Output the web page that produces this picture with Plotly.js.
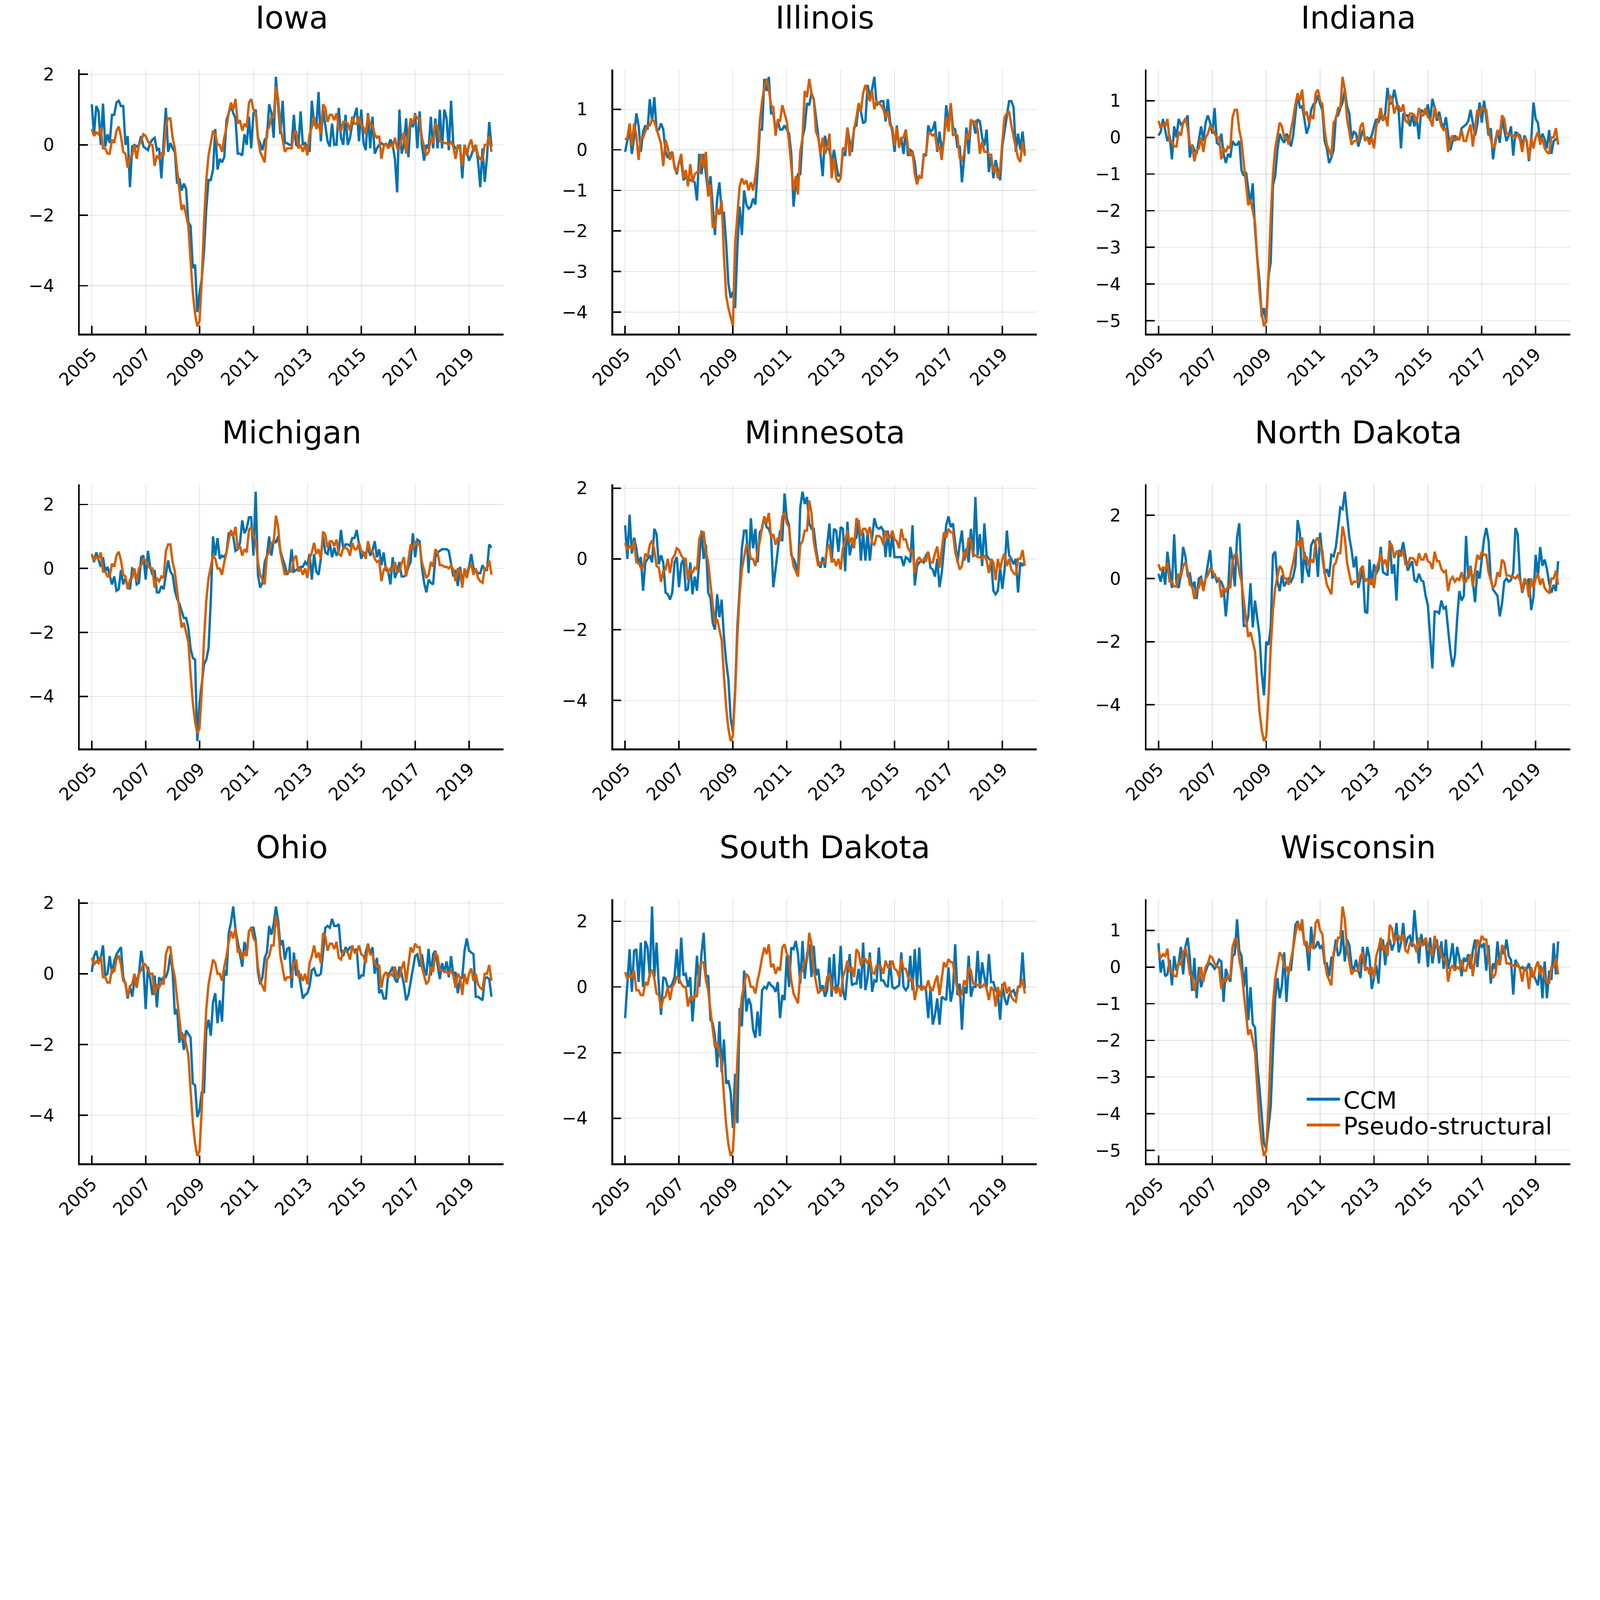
<!DOCTYPE html>
<html><head><meta charset="utf-8">
<script src="https://cdn.plot.ly/plotly-3.0.1.min.js"></script>
<style>html,body{margin:0;padding:0;background:#fff;overflow:hidden}</style>
</head><body><div id="chart"></div>
<script>
// ---------- DATA (monthly, Jan 2005 onward) ----------
const states = ["Iowa","Illinois","Indiana","Michigan","Minnesota","North Dakota","Ohio","South Dakota","Wisconsin"];
const startYear = 2005;
const xTickVals = [2005,2007,2009,2011,2013,2015,2017,2019];
const xTickText = ["2005","2007","2009","2011","2013","2015","2017","2019"];
const yTickVals = [
  [-4,-2,0,2],
  [-4,-3,-2,-1,0,1],
  [-5,-4,-3,-2,-1,0,1],
  [-4,-2,0,2],
  [-4,-2,0,2],
  [-4,-2,0,2],
  [-4,-2,0,2],
  [-4,-2,0,2],
  [-5,-4,-3,-2,-1,0,1]
];
const seriesNames = ["CCM","Pseudo-structural"];

const ccmIowa = [
1.15,0.3,1.1,0.95,0.0,1.17,-0.05,0.3,0.05,0.85,0.85,1.2,
1.25,1.1,1.1,0.0,0.25,-1.2,-0.05,0.0,-0.05,0.0,0.25,-0.05,
-0.1,-0.15,0.05,0.15,0.2,-0.15,-0.1,-0.95,0.1,1.05,-0.2,0.05,
-0.1,-0.2,-1.1,-0.95,-1.3,-1.1,-1.25,-2.2,-2.3,-3.5,-3.4,-4.75,
-4.2,-3.8,-3.0,-1.8,-1.0,-1.0,-0.7,0.45,-0.7,-0.4,-0.5,-0.35,
0.7,0.9,1.1,0.9,0.75,-0.25,-0.25,-0.3,0.3,0.0,0.8,-0.1,
0.9,1.0,0.2,0.05,-0.15,0.15,0.2,1.15,0.9,0.2,1.93,1.1,
0.3,1.25,0.05,0.05,0.0,0.0,0.85,0.0,-0.05,0.95,0.0,0.05,
-0.05,-0.2,1.25,0.6,0.5,1.5,0.1,1.0,0.5,0.1,-0.05,0.6,
0.0,0.0,1.05,0.2,0.0,0.85,0.0,0.2,0.6,0.8,1.05,0.1,
1.0,0.05,-0.15,0.9,-0.1,0.8,-0.25,-0.1,0.0,0.05,0.0,0.0,
-0.05,0.15,0.0,-0.4,-1.35,1.0,-0.25,0.0,0.75,-0.35,0.75,0.5,
0.9,-0.1,0.95,0.0,-0.45,0.0,-0.1,0.8,-0.1,0.75,-0.1,1.0,
-0.1,1.0,0.75,-0.15,1.25,0.0,-0.1,-0.1,0.0,-0.95,0.0,-0.2,
-0.45,-0.3,-0.1,0.0,-0.45,-1.2,-0.1,-1.05,-0.35,0.65,-0.05];

const ccmIllinois = [
-0.05,0.25,0.5,-0.1,0.3,0.9,0.6,-0.05,0.45,0.6,0.5,1.25,
0.7,1.3,0.5,0.5,0.65,0.5,-0.05,-0.2,-0.1,-0.05,-0.4,-0.6,
-0.3,-0.3,-0.75,-0.65,-0.7,-0.75,-0.75,-0.8,-1.25,-0.1,-0.6,-0.1,
-0.6,-1.1,-0.65,-1.3,-2.1,-1.2,-0.8,-1.55,-1.55,-2.3,-3.3,-3.65,
-3.5,-3.9,-2.4,-1.4,-2.1,-1.0,-1.35,-1.45,-1.4,-1.2,-1.35,-0.5,
0.5,0.5,1.75,1.45,1.8,0.9,0.9,0.5,0.7,0.5,0.5,0.6,
0.5,0.4,-0.1,-1.4,-0.8,-0.6,-0.6,0.3,0.55,1.15,1.1,1.4,
1.25,0.8,0.4,-0.1,-0.65,0.35,0.05,0.0,-0.35,0.0,-0.35,-0.65,
-0.6,-0.05,-0.15,0.55,0.2,-0.05,0.55,0.6,1.1,0.95,0.65,0.7,
1.6,1.3,1.5,1.8,1.1,1.15,1.2,1.2,0.7,1.25,0.7,0.45,
-0.05,0.6,0.1,0.3,-0.1,0.5,-0.15,0.0,-0.05,-0.3,-0.8,-0.65,
-0.7,-0.1,-0.15,0.6,0.45,0.5,0.7,-0.05,0.45,0.0,0.25,1.1,
0.6,1.15,0.55,0.5,0.05,0.1,-0.8,-0.2,0.55,-0.1,0.7,0.7,
0.4,0.75,0.7,0.3,0.1,0.5,-0.55,-0.1,-0.7,-0.25,-0.5,-0.75,
0.1,0.5,0.85,1.2,1.2,1.05,-0.05,0.4,0.0,0.45,-0.1];

const ccmIndiana = [
0.05,0.15,0.5,0.2,-0.1,0.05,-0.6,0.3,0.0,0.5,0.35,0.4,
0.45,0.6,-0.55,-0.2,-0.35,-0.45,-0.1,0.3,-0.1,0.4,0.6,0.4,
0.1,0.8,-0.15,-0.2,0.1,-0.45,-0.7,-0.45,-0.55,-0.1,-0.2,-0.2,
-0.1,-0.9,-1.05,-0.95,-1.4,-1.8,-1.25,-2.5,-3.3,-3.9,-4.9,-4.65,
-5.05,-3.8,-3.4,-1.3,-1.05,-0.35,0.1,-0.05,-0.15,0.1,0.0,-0.25,
0.05,0.6,1.2,0.8,0.85,0.5,0.1,0.3,0.75,0.9,0.95,1.15,
0.9,0.75,-0.1,-0.3,-0.7,-0.55,-0.35,0.55,0.6,0.8,0.95,1.3,
0.85,0.65,-0.05,0.15,0.1,-0.25,0.0,0.2,-0.05,0.0,-0.05,0.05,
0.3,0.5,0.4,0.6,0.45,0.65,1.35,0.9,0.95,1.3,1.0,0.7,
-0.3,0.65,0.6,0.6,0.3,0.6,0.3,0.55,-0.05,0.75,0.7,0.65,
0.9,0.45,1.05,0.8,0.45,0.7,0.4,0.25,0.55,0.05,-0.35,-0.1,
0.05,-0.05,-0.05,0.25,0.3,0.35,0.45,0.75,0.4,0.05,0.35,0.95,
0.4,1.0,0.55,0.05,0.25,-0.6,-0.1,0.2,-0.15,0.5,0.2,-0.1,
0.05,0.3,-0.5,0.15,0.1,0.05,-0.25,0.05,-0.1,-0.65,-0.1,0.95,
0.5,0.4,-0.15,0.1,-0.05,-0.3,0.2,-0.45,-0.1,-0.05,-0.05];

const ccmMichigan = [
0.45,0.2,0.5,0.3,0.05,0.35,-0.1,0.05,-0.2,-0.5,-0.25,-0.7,
-0.65,-0.05,-0.5,-0.3,-0.55,-0.65,0.0,-0.05,-0.5,-0.45,0.35,0.4,
-0.35,0.55,0.05,-0.2,-0.05,-0.75,-0.75,-0.55,-0.65,-0.2,0.25,-0.1,
-0.2,-0.7,-0.95,-1.1,-1.3,-1.55,-1.55,-1.85,-2.5,-2.8,-2.85,-5.4,
-4.2,-3.6,-3.0,-2.85,-2.5,-1.0,1.0,0.4,0.95,0.3,0.4,0.35,
0.5,1.1,1.1,1.0,0.55,0.6,0.8,1.5,1.1,1.25,1.6,1.6,
0.4,2.4,-0.2,-0.6,-0.45,0.2,0.4,1.0,0.4,0.9,0.8,1.0,
0.55,0.3,0.1,-0.2,-0.05,0.6,-0.1,-0.05,0.0,0.05,0.05,0.2,
0.1,0.45,-0.35,0.45,-0.1,-0.2,0.3,1.0,0.5,0.45,0.8,0.35,
0.65,0.4,0.55,1.2,0.6,0.75,0.75,0.7,0.95,0.95,1.2,0.8,
0.3,0.5,0.45,0.65,0.4,0.55,0.85,0.35,0.6,0.1,0.5,-0.05,
-0.1,-0.5,0.35,-0.3,-0.1,0.2,-0.25,-0.25,-0.2,0.05,0.2,1.1,
0.35,0.9,0.85,0.05,-0.45,-0.75,-0.35,-0.45,-0.5,0.35,0.5,0.55,
0.6,0.6,0.6,0.55,0.15,-0.25,-0.05,-0.55,0.05,-0.45,-0.1,-0.15,
0.05,0.45,0.0,-0.05,-0.15,-0.15,0.1,-0.05,-0.05,0.75,0.65];

const ccmMinnesota = [
0.95,0.0,1.25,0.15,0.6,0.3,-0.15,0.05,-0.9,-0.1,0.0,0.1,
-0.1,0.85,0.7,-0.15,0.1,-0.1,-0.95,-1.0,-1.15,-0.95,-0.1,0.05,
-0.8,-0.15,0.0,-0.9,-0.85,-0.1,-1.0,-0.5,-0.9,0.0,0.8,0.0,
0.4,-0.95,-1.1,-1.8,-2.0,-1.0,-1.65,-1.15,-2.2,-2.9,-3.4,-4.5,
-4.9,-3.7,-1.9,-0.85,0.3,0.8,0.8,-0.4,1.15,0.3,0.85,-0.1,
0.75,0.85,1.2,0.9,0.85,0.65,-0.8,-0.3,0.2,0.8,0.5,1.85,
1.15,0.95,0.1,0.0,-0.15,-0.5,1.45,1.9,1.55,1.75,1.0,0.85,
0.85,0.3,-0.1,-0.25,0.05,-0.25,0.4,1.0,-0.05,0.85,0.8,0.2,
0.9,0.85,-0.35,1.05,0.1,0.4,0.55,0.6,1.1,-0.05,0.75,-0.05,
0.75,-0.05,0.6,1.15,0.9,0.85,0.9,0.8,0.05,0.8,0.05,0.7,
0.05,0.05,0.05,0.05,-0.2,0.05,0.0,-0.1,0.95,-0.75,-0.2,-0.1,
-0.05,-0.1,0.1,0.2,-0.25,-0.3,-0.5,0.0,-0.8,-0.4,0.3,0.95,
1.2,0.9,1.0,0.4,-0.1,0.4,0.8,-0.05,0.3,-0.1,0.85,0.05,
1.75,0.1,0.7,-0.2,1.0,0.1,0.0,-0.05,-0.9,-1.0,-0.9,-0.25,
-0.85,-0.3,0.8,0.1,0.0,-0.15,0.0,-0.95,-0.1,-0.2,-0.05];

const ccmNorthDakota = [
0.15,-0.1,0.3,-0.2,0.85,0.25,-0.3,1.4,-0.15,-0.3,0.15,1.0,
0.7,0.1,0.15,-0.3,-0.1,-0.65,0.0,0.05,-0.3,0.0,0.5,0.9,
0.0,0.15,-0.1,-0.05,-0.1,-0.3,-1.2,-0.4,1.0,0.6,-0.25,1.3,
1.75,0.2,-1.5,-1.5,-1.2,-0.15,-1.55,-0.7,-1.2,-1.8,-3.0,-3.7,
-2.0,-2.1,-1.55,0.75,0.85,-0.1,-0.4,0.1,-0.25,-0.1,0.0,-0.1,
0.05,0.4,1.85,1.45,-0.15,0.85,0.3,0.05,1.05,1.2,1.1,0.05,
1.45,0.7,0.15,0.3,0.05,0.75,0.7,1.0,1.6,2.25,2.2,2.75,
2.0,1.3,0.9,0.35,0.7,-0.3,0.0,0.35,-1.05,-1.1,0.6,-0.2,
0.45,0.15,0.3,1.0,0.2,0.15,0.1,1.2,0.15,0.45,-0.7,0.9,
0.8,1.15,0.7,0.25,0.4,0.55,-0.05,-0.1,0.15,-0.05,-0.1,-0.55,
-0.85,-1.8,-2.85,-1.05,-1.05,-1.1,-0.7,-0.95,-0.9,-1.6,-2.3,-2.8,
-2.45,-1.3,-0.4,-0.7,-0.55,1.35,0.0,0.4,-0.1,-0.75,0.25,0.0,
0.6,1.25,1.6,1.2,0.0,-0.35,-0.45,-0.55,-1.2,-0.8,-0.1,0.0,
-0.1,-0.05,0.2,1.6,1.4,0.05,-0.45,-0.15,-0.15,0.0,-1.0,-0.6,
0.75,0.05,1.0,0.4,0.6,0.3,-0.15,-0.45,-0.2,-0.4,0.55];

const ccmOhio = [
0.05,0.5,0.65,0.35,0.45,0.8,-0.05,0.0,0.5,0.0,0.35,0.55,
0.65,0.75,-0.1,-0.3,-0.7,-0.35,-0.65,-0.2,-0.2,0.0,0.65,0.2,
-1.0,0.2,-0.15,-0.6,-0.05,-0.95,-0.1,-0.2,-0.1,-0.1,0.1,0.55,
0.05,-1.15,-1.0,-1.95,-1.65,-2.15,-1.6,-1.7,-1.8,-3.1,-3.15,-4.05,
-3.85,-3.35,-3.35,-1.6,-1.3,-1.75,-0.8,-0.55,-1.4,-0.75,-1.35,0.1,
-0.05,1.15,1.45,1.9,1.25,0.9,0.55,0.2,0.9,0.6,1.2,1.3,
1.3,0.95,0.05,-0.3,-0.1,0.45,0.6,1.35,1.1,1.4,1.9,1.5,
0.8,0.95,0.4,0.7,0.75,-0.4,0.6,-0.05,0.1,-0.35,-0.7,-0.6,
-0.55,-0.35,0.1,0.15,-0.05,-0.05,0.0,0.6,1.3,1.35,1.3,1.55,
1.35,1.35,1.4,0.65,0.5,0.75,0.65,0.75,0.75,0.65,0.7,-0.15,
-0.05,-0.05,0.6,0.85,0.55,0.75,0.0,0.45,-0.55,-0.45,-0.7,-0.7,
0.0,0.05,0.2,-0.15,-0.25,0.2,0.0,-0.3,-0.75,-0.6,-0.25,0.15,
0.5,0.55,0.2,0.55,0.15,-0.05,0.7,-0.05,0.55,0.65,0.25,-0.15,
0.3,0.05,0.35,-0.1,0.5,-0.05,0.05,-0.55,-0.15,-0.1,0.65,1.0,
0.65,0.6,0.55,-0.65,-0.65,-0.7,-0.75,-0.15,-0.1,-0.15,-0.65];

const ccmSouthDakota = [
-0.95,0.15,1.15,-0.15,1.1,1.15,0.15,1.35,0.0,1.4,1.2,0.3,
2.45,0.3,1.35,0.05,-0.85,0.3,0.25,0.0,0.0,0.1,0.3,1.15,
0.1,1.5,0.35,0.4,0.0,0.3,-1.05,-0.15,0.95,0.0,1.0,1.65,
0.3,0.35,-1.0,-1.1,-1.5,-2.45,-1.05,-2.6,-1.6,-2.95,-2.85,-3.2,
-4.3,-2.65,-4.15,-0.65,-1.2,0.5,-0.75,-0.35,-0.55,-1.3,-1.55,-0.75,
-1.5,-0.1,0.0,-0.05,0.15,0.05,0.0,-0.15,0.15,-0.95,-0.25,-0.4,
0.95,0.0,1.2,1.15,1.4,1.0,0.1,1.4,0.25,1.0,1.3,0.3,
1.25,0.35,0.55,-0.1,0.05,-0.3,-0.1,0.9,-0.3,1.0,-0.2,0.1,
1.25,-0.1,-0.4,0.4,1.0,0.05,0.1,0.1,0.55,-0.05,1.35,-0.1,
0.3,1.05,-0.15,0.2,0.15,1.2,0.2,0.2,0.05,0.0,0.8,0.0,
-0.05,0.0,0.05,1.05,0.0,-0.1,0.0,0.95,-0.1,1.15,0.0,1.2,
-0.1,0.0,-0.1,-0.95,0.0,-1.15,-0.85,-0.35,-1.15,-0.3,-0.35,-0.4,
0.6,-0.45,-0.1,1.3,-0.25,0.1,-1.3,0.0,-0.2,0.95,-0.3,0.0,
0.0,1.1,-0.05,0.75,0.3,0.0,1.0,0.15,0.15,-0.1,-0.2,-1.0,
0.1,-0.35,-0.55,-0.25,-0.15,-0.1,-0.3,0.0,0.05,1.05,-0.05];

const ccmWisconsin = [
0.65,-0.15,0.2,-0.25,-0.2,0.2,-0.5,0.3,-0.1,0.1,0.55,-0.2,
0.55,0.8,0.25,-0.65,0.25,-0.85,0.0,-0.55,-0.3,-0.1,0.05,0.1,
0.05,-0.05,0.05,0.2,0.15,-0.95,-0.05,-0.25,-0.4,0.3,0.35,1.3,
0.45,0.3,-0.55,0.0,-1.45,-0.55,-1.55,-1.65,-2.65,-3.3,-4.0,-4.8,
-4.95,-4.3,-3.8,-2.3,-0.85,-0.3,-0.85,-0.5,0.4,-0.95,0.0,-0.1,
0.5,1.15,1.25,1.0,1.1,0.65,0.55,-0.1,1.1,0.5,0.55,0.7,
0.5,0.6,0.1,0.1,-0.25,0.25,0.3,0.75,0.3,0.4,1.0,0.15,
0.75,0.6,0.05,-0.1,0.2,-0.1,-0.3,0.55,0.0,0.55,0.25,-0.6,
-0.3,0.05,-0.45,0.55,0.75,0.05,0.65,0.75,0.45,0.65,1.2,0.4,
0.65,1.2,0.55,0.8,0.85,0.55,1.55,0.8,0.1,0.9,0.6,0.75,
0.0,0.8,0.1,0.5,0.75,0.1,0.7,-0.05,0.75,-0.05,0.25,0.65,
-0.05,0.55,0.25,-0.25,0.25,0.15,0.35,-0.05,0.45,0.75,0.0,0.65,
0.55,0.65,-0.1,0.6,-0.45,0.1,-0.05,0.7,0.05,0.5,0.35,0.75,
0.3,0.2,-0.75,0.2,0.05,-0.05,0.0,-0.1,-0.05,0.1,-0.25,-0.2,
-0.35,-0.5,0.05,-0.85,0.15,-0.85,-0.1,-0.35,0.65,-0.2,0.7];

// pseudo-structural series (shared shape across most states)
const pseudoCommon = [
0.45,0.25,0.35,0.3,0.5,-0.1,-0.1,-0.25,-0.25,0.15,0.05,0.4,
0.52,0.25,-0.2,-0.25,-0.65,-0.35,-0.3,0.0,-0.4,0.0,0.1,0.3,
0.25,0.1,0.0,0.0,-0.6,-0.3,-0.4,-0.25,-0.3,0.55,0.75,0.75,
0.2,-0.1,-0.7,-1.3,-1.85,-1.7,-2.0,-2.3,-3.3,-4.2,-4.8,-5.15,
-5.0,-3.8,-2.2,-1.0,-0.3,0.1,0.4,0.3,0.0,0.0,-0.2,0.2,
0.5,0.9,1.2,1.0,1.3,0.6,0.7,0.4,0.6,0.5,1.2,1.3,
1.0,0.9,0.2,-0.2,-0.35,-0.5,0.4,0.5,0.8,0.8,1.65,1.3,
0.5,0.1,-0.2,-0.1,-0.1,-0.1,0.3,0.4,-0.1,0.0,-0.2,0.0,
-0.3,0.3,0.5,0.8,0.45,0.6,0.3,1.15,1.05,0.65,0.85,0.85,
0.7,0.9,0.45,0.4,0.65,0.65,0.6,0.4,0.8,0.6,0.6,0.8,
0.55,0.5,0.3,0.85,0.55,0.55,0.3,0.2,0.25,-0.4,-0.05,0.05,
-0.1,0.0,-0.05,0.2,-0.1,-0.1,0.15,0.35,-0.25,0.25,0.75,0.6,
0.85,0.75,0.75,0.2,-0.05,-0.3,-0.2,0.2,0.05,0.6,0.5,0.1,
0.1,0.05,0.05,0.0,0.1,-0.05,-0.4,0.0,-0.1,-0.6,0.0,-0.3,
0.0,0.15,-0.2,0.0,-0.3,-0.4,-0.45,0.0,0.0,0.25,-0.2];

const pseudoIllinois = [
0.25,0.3,0.65,0.1,0.65,0.35,-0.25,0.3,0.3,0.45,0.6,0.6,
0.75,0.7,0.5,0.3,0.15,-0.4,0.25,0.05,-0.25,-0.05,-0.45,-0.55,
-0.3,-0.1,-0.7,-0.5,-0.9,-0.35,-0.8,-0.6,-0.55,-0.55,-0.1,-0.45,
-0.05,-1.15,-0.85,-1.9,-1.9,-1.45,-1.6,-1.25,-2.6,-3.6,-3.9,-4.1,
-4.35,-2.3,-1.5,-0.9,-0.7,-0.85,-0.75,-1.0,-0.8,-1.0,-0.65,-0.2,
0.7,1.2,1.55,1.75,1.5,1.1,1.05,0.35,0.75,0.7,1.1,0.9,
0.7,0.2,-0.4,-1.0,-0.65,-1.1,-0.05,0.3,1.45,1.3,1.75,1.4,
1.25,0.45,0.3,-0.1,0.3,-0.1,0.05,0.4,-0.7,-0.2,-0.7,-0.8,
-0.7,0.05,0.0,0.55,-0.15,0.2,0.5,0.8,1.15,0.95,1.4,1.6,
1.4,1.2,1.45,1.0,1.2,1.15,1.1,1.0,0.8,0.95,0.6,0.55,
0.1,0.55,0.05,0.3,0.3,0.5,0.05,-0.15,-0.05,-0.6,-0.85,-0.65,
-0.7,-0.15,-0.1,0.4,0.4,0.35,0.4,0.0,0.1,-0.25,0.3,0.8,
0.45,1.15,0.35,0.4,0.35,-0.2,-0.25,-0.1,0.4,0.25,0.75,0.65,
0.7,0.5,-0.1,0.2,-0.05,-0.05,-0.1,-0.15,-0.55,-0.4,-0.7,-0.5,
0.2,0.8,0.9,0.95,0.6,0.3,0.05,-0.2,-0.3,0.2,-0.15];

const ccmSeries = [ccmIowa, ccmIllinois, ccmIndiana, ccmMichigan, ccmMinnesota, ccmNorthDakota, ccmOhio, ccmSouthDakota, ccmWisconsin];
const pseudoSeries = [pseudoCommon, pseudoIllinois, pseudoCommon, pseudoCommon, pseudoCommon, pseudoCommon, pseudoCommon, pseudoCommon, pseudoCommon];

// ---------- STYLE / LAYOUT (designed on a 7500 x 5833 canvas, scaled to fit window) ----------
const REF_W = 7500, REF_H = 5833;
const S = Math.min((window.innerWidth || REF_W) / REF_W, (window.innerHeight || REF_H) / REF_H);
const W = Math.round(REF_W * S), H = Math.round(REF_H * S);
const cellW = REF_W / 3, cellH = REF_H / 3;
const padL = 374, padR = 140, padT = 325, padB = 380;
const BLUE = '#0072B2', ORANGE = '#D55E00';
const FONT = 'DejaVu Sans';
const px = v => v * S;
const ipx = v => Math.round(v * S);

const chartDiv = document.getElementById('chart');
chartDiv.style.width = W + 'px';
chartDiv.style.height = H + 'px';

const traces = [];
const layout = {
  width: W, height: H,
  margin: {l: 0, r: 0, t: 0, b: 0, pad: 0},
  paper_bgcolor: '#ffffff', plot_bgcolor: '#ffffff',
  showlegend: true,
  annotations: [],
  font: {family: FONT, color: '#000'}
};

function fmtTick(v) { return v < 0 ? '\u2212' + Math.abs(v) : String(v); }

states.forEach((name, i) => {
  const r = Math.floor(i / 3), c = i % 3;
  const k = i === 0 ? '' : String(i + 1);
  const ccm = ccmSeries[i], ps = pseudoSeries[i];
  const xs = ccm.map((_, j) => startYear + j / 12);
  const xs2 = ps.map((_, j) => startYear + j / 12);
  const isLast = i === states.length - 1;

  traces.push({
    x: xs, y: ccm, type: 'scatter', mode: 'lines', name: seriesNames[0],
    line: {color: BLUE, width: px(11)}, xaxis: 'x' + k, yaxis: 'y' + k,
    showlegend: isLast, legend: 'legend', hoverinfo: 'skip'
  });
  traces.push({
    x: xs2, y: ps, type: 'scatter', mode: 'lines', name: seriesNames[1],
    line: {color: ORANGE, width: px(11)}, xaxis: 'x' + k, yaxis: 'y' + k,
    showlegend: isLast, legend: 'legend2', hoverinfo: 'skip'
  });

  // limits: data extrema widened by 3%
  const allY = ccm.concat(ps);
  const ymin = Math.min(...allY), ymax = Math.max(...allY);
  const yp = 0.03 * (ymax - ymin);
  const allX = xs.concat(xs2);
  const xmin = Math.min(...allX), xmax = Math.max(...allX);
  const xp = 0.03 * (xmax - xmin);

  const x0 = (c * cellW + padL) / REF_W, x1 = ((c + 1) * cellW - padR) / REF_W;
  const yTop = r * cellH + padT, yBot = (r + 1) * cellH - padB;
  const y0 = 1 - yBot / REF_H, y1 = 1 - yTop / REF_H;

  const axisBase = {
    showline: true, linecolor: '#000', linewidth: px(8), mirror: false,
    ticks: 'inside', ticklen: px(38), tickwidth: px(7), tickcolor: '#000',
    showgrid: true, gridcolor: 'rgba(0,0,0,0.10)', gridwidth: px(4),
    zeroline: false, tickfont: {family: FONT, size: px(82), color: '#000'}
  };
  layout['xaxis' + k] = Object.assign({}, axisBase, {
    domain: [x0, x1], anchor: 'y' + k, range: [xmin - xp, xmax + xp],
    tickmode: 'array', tickvals: xTickVals, ticktext: xTickText,
    tickangle: -45, ticklabelstandoff: ipx(8)
  });
  const yt = yTickVals[i];
  layout['yaxis' + k] = Object.assign({}, axisBase, {
    domain: [y0, y1], anchor: 'x' + k, range: [ymin - yp, ymax + yp],
    tickmode: 'array', tickvals: yt, ticktext: yt.map(fmtTick),
    ticklabelstandoff: ipx(96)
  });

  layout.annotations.push({
    text: name, xref: 'paper', yref: 'paper',
    x: (x0 + x1) / 2, y: 1 - (r * cellH + 84) / REF_H,
    xanchor: 'center', yanchor: 'middle', showarrow: false, borderpad: 0,
    font: {family: FONT, size: px(146), color: '#000'}
  });
});

const legendBase = {
  xref: 'paper', yref: 'paper', xanchor: 'left', yanchor: 'middle',
  bgcolor: 'rgba(0,0,0,0)', borderwidth: 0,
  font: {family: FONT, size: px(111), color: '#000'},
  itemwidth: Math.max(30, ipx(153)), tracegroupgap: 0
};
layout.legend = Object.assign({}, legendBase, {x: 6125 / REF_W, y: 1 - 5152 / REF_H});
layout.legend2 = Object.assign({}, legendBase, {x: 6125 / REF_W, y: 1 - 5273 / REF_H});

Plotly.newPlot('chart', traces, layout, {staticPlot: true, displayModeBar: false}).then(gd => {
  gd.querySelectorAll('.legendlines path').forEach(p => {
    p.setAttribute('d', 'M' + px(5) + ',0h' + px(145));
    p.style.strokeLinecap = 'round';
    p.style.strokeWidth = px(14) + 'px';
  });
});
</script>
</body></html>
